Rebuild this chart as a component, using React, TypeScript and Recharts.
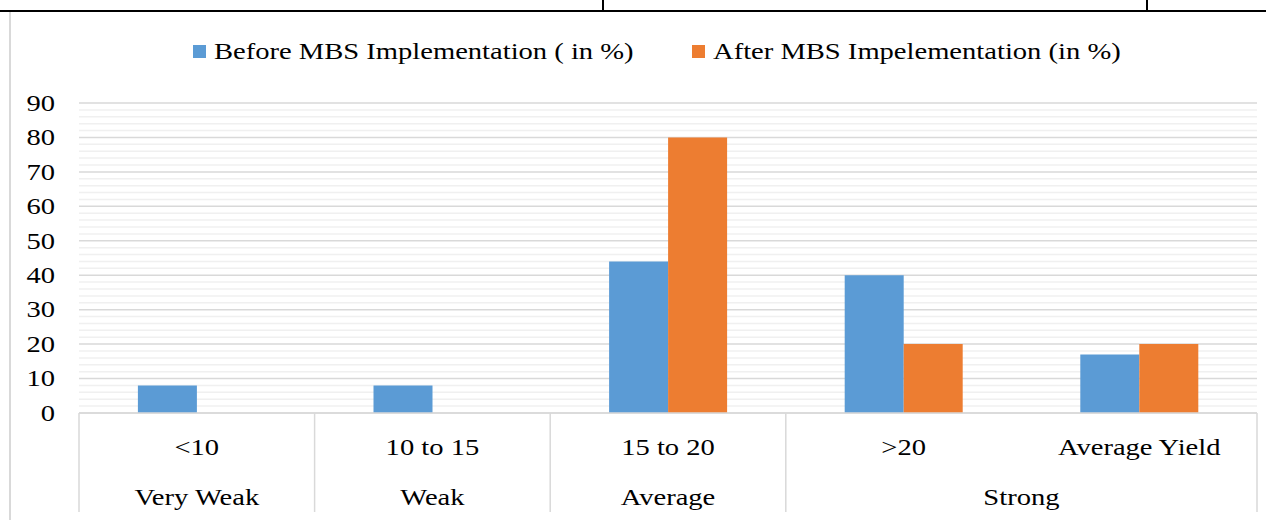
import React from 'react';
import { BarChart, Bar, XAxis, YAxis, CartesianGrid } from 'recharts';

const categories = ['<10', '10 to 15', '15 to 20', '>20', 'Average Yield'];
const beforeValues = [8, 8, 44, 40, 17];
const afterValues = [0, 0, 80, 20, 20];
const seriesNames = ['Before MBS Implementation ( in %)', 'After MBS Impelementation (in %)'];
const groupLabels = ['Very Weak', 'Weak', 'Average', 'Strong'];
const groupStarts = [0, 1, 2, 3];
const groupSpans = [1, 1, 1, 2];
const yTicks = [0, 10, 20, 30, 40, 50, 60, 70, 80, 90];

const BLUE = '#5B9BD5';
const ORANGE = '#ED7D31';
const FONT = '"Liberation Serif", "Times New Roman", serif';
const SX = 1.19;

const W = 1266;
const H = 520;
const M = { top: 103, right: 9, left: 19, bottom: 7 };
const Y_AXIS_W = 60;
const X_AXIS_H = 100;
const BAND = (W - M.left - M.right - Y_AXIS_W) / categories.length;

const minorTicks: number[] = [];
for (let v = 0; v <= 90; v += 2) if (v % 10 !== 0) minorTicks.push(v);

const data = categories.map((c, i) => ({ name: c, before: beforeValues[i], after: afterValues[i] }));

const Label = ({ x, y, anchor, children }: any) => (
  <g transform={`translate(${x},${y}) scale(${SX},1)`}>
    <text x={0} y={0} textAnchor={anchor} dominantBaseline="central" fontFamily={FONT} fontSize={24} fill="#000">
      {children}
    </text>
  </g>
);

const XTick = (props: any) => {
  const { x, y, payload, index } = props;
  const half = BAND / 2;
  const gi = groupStarts.indexOf(index);
  return (
    <g>
      <Label x={x} y={y + 34} anchor="middle">{payload.value}</Label>
      {gi >= 0 && (
        <>
          <line x1={x - half} x2={x - half} y1={y} y2={y + 99} stroke="#d9d9d9" strokeWidth={1.5} />
          <Label x={x - half + (groupSpans[gi] * BAND) / 2} y={y + 84} anchor="middle">{groupLabels[gi]}</Label>
        </>
      )}
      {index === categories.length - 1 && (
        <line x1={x + half} x2={x + half} y1={y} y2={y + 99} stroke="#d9d9d9" strokeWidth={1.5} />
      )}
    </g>
  );
};

const YTick = (props: any) => {
  const { x, y, payload } = props;
  return <Label x={x} y={y} anchor="end">{payload.value}</Label>;
};

const legendItem = (color: string, label: string, left: number) => (
  <div style={{ position: 'absolute', left, top: 36, height: 30, display: 'flex', alignItems: 'center', fontFamily: FONT, fontSize: 24, color: '#000', whiteSpace: 'nowrap' }}>
    <span style={{ display: 'inline-block', width: 13, height: 13, background: color, marginRight: 8 }} />
    <span style={{ display: 'inline-block', transform: `scaleX(${SX})`, transformOrigin: 'left center' }}>{label}</span>
  </div>
);

export default function App() {
  return (
    <div style={{ position: 'relative', width: W, height: H, background: '#fff', overflow: 'hidden' }}>
      <style>{'body{margin:0;}'}</style>
      <div style={{ position: 'absolute', left: 0, top: 10, width: W, height: 2, background: '#000' }} />
      <div style={{ position: 'absolute', left: 602, top: 0, width: 2, height: 11, background: '#000' }} />
      <div style={{ position: 'absolute', left: 1146, top: 0, width: 2, height: 11, background: '#000' }} />
      <div style={{ position: 'absolute', left: 9, top: 12, width: 1.5, height: H - 12, background: '#d9d9d9' }} />
      {legendItem(BLUE, seriesNames[0], 193)}
      {legendItem(ORANGE, seriesNames[1], 692)}
      <div style={{ position: 'absolute', left: 0, top: 0 }}>
        <BarChart width={W} height={H} data={data} margin={M} barCategoryGap="25%" barGap={0}>
          <CartesianGrid vertical={false} stroke="#f0f0f0" strokeWidth={1.5} horizontalValues={minorTicks} />
          <CartesianGrid vertical={false} stroke="#d9d9d9" strokeWidth={1.5} />
          <XAxis
            dataKey="name"
            height={X_AXIS_H}
            tickSize={0}
            tickMargin={0}
            tickLine={false}
            axisLine={{ stroke: '#d9d9d9', strokeWidth: 1.5 }}
            tick={<XTick />}
            interval={0}
          />
          <YAxis
            width={Y_AXIS_W}
            domain={[0, 90]}
            ticks={yTicks}
            interval={0}
            axisLine={false}
            tickLine={false}
            tickMargin={18}
            tick={<YTick />}
          />
          <Bar dataKey="before" name={seriesNames[0]} fill={BLUE} isAnimationActive={false} />
          <Bar dataKey="after" name={seriesNames[1]} fill={ORANGE} isAnimationActive={false} />
        </BarChart>
      </div>
    </div>
  );
}
